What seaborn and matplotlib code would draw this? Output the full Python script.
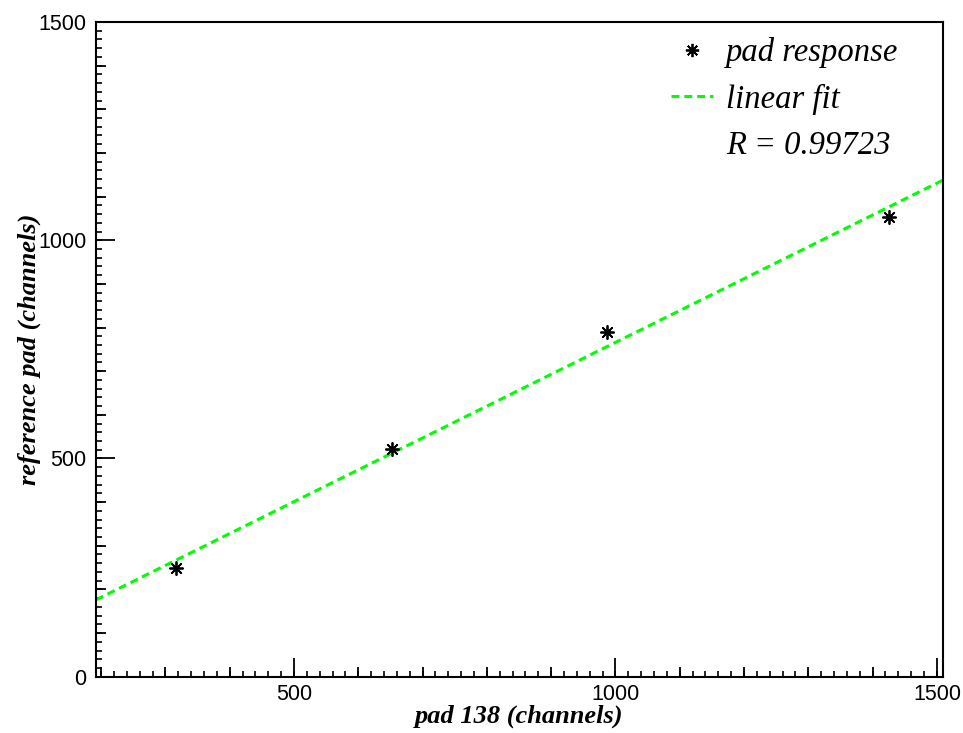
import numpy as np
import pandas as pd
import matplotlib
matplotlib.use("Agg")
import matplotlib.pyplot as plt
from matplotlib.lines import Line2D
from matplotlib.ticker import MultipleLocator
import seaborn as sns

# ---- data ----
pad138 = [316.5, 653.0, 987.0, 1426.0]
reference_pad = [248.0, 521.0, 790.0, 1054.0]
r_value_text = "R = 0.99723"
x_label = "pad 138 (channels)"
y_label = "reference pad (channels)"
legend_labels = ["pad response", "linear fit"]
x_limits = (192, 1509)
y_limits = (0, 1500)

df = pd.DataFrame({"x": pad138, "y": reference_pad})

sns.set_style("white")
plt.rcParams["font.family"] = ["Liberation Sans", "DejaVu Sans"]
plt.rcParams.update({"text.color": "black", "axes.labelcolor": "black",
                     "xtick.color": "black", "ytick.color": "black"})

fig = plt.figure(figsize=(9.63, 7.33), dpi=100)
ax = fig.add_axes([96 / 963, 1 - 676.7 / 733, 846.7 / 963, 654.7 / 733])
ax.set_xlim(*x_limits)
ax.set_ylim(*y_limits)

green = "#00ff00"
sns.regplot(data=df, x="x", y="y", ax=ax, scatter=False, ci=None, truncate=False,
            line_kws=dict(color=green, lw=2.2, linestyle=(0, (2.6, 1.6))))
sns.scatterplot(data=df, x="x", y="y", ax=ax, marker=(8, 2, 0), s=90,
                color="black", edgecolor="black", linewidth=1.3, zorder=5)
ax.set_xlim(*x_limits)
ax.set_ylim(*y_limits)

# spines
for sp in ax.spines.values():
    sp.set_visible(True)
    sp.set_linewidth(1.5)
    sp.set_color("black")

# ticks
ax.xaxis.set_major_locator(MultipleLocator(500))
ax.xaxis.set_minor_locator(MultipleLocator(100))
ax.yaxis.set_major_locator(MultipleLocator(500))
ax.yaxis.set_minor_locator(MultipleLocator(100))
ax.tick_params(which="major", direction="in", length=13.5, width=1.3,
               labelsize=15.5, top=False, right=False, bottom=True, left=True,
               colors="black")
ax.tick_params(which="minor", direction="in", length=7.5, width=1.3,
               top=False, right=False, bottom=True, left=True, colors="black")
ax.tick_params(axis="x", which="major", pad=5)
ax.tick_params(axis="y", which="major", pad=7)

# finest ticks via secondary axes
secx = ax.secondary_xaxis("bottom")
secx.xaxis.set_major_locator(MultipleLocator(20))
secx.tick_params(which="major", direction="in", length=4, width=1.2,
                 labelbottom=False, colors="black")
secx.spines["bottom"].set_visible(False)
secy = ax.secondary_yaxis("left")
secy.yaxis.set_major_locator(MultipleLocator(20))
secy.tick_params(which="major", direction="in", length=4, width=1.2,
                 labelleft=False, colors="black")
secy.spines["left"].set_visible(False)

serif_bi = dict(family=["Liberation Serif", "DejaVu Serif"], style="italic",
                weight="bold", size=19, color="black")
ax.set_xlabel(x_label, fontdict=serif_bi, labelpad=0)
ax.set_ylabel(y_label, fontdict=serif_bi, labelpad=-2)

handles = [
    Line2D([], [], linestyle="none", marker=(8, 2, 0), markersize=9.5,
           markeredgewidth=1.3, color="black"),
    Line2D([], [], color=green, lw=2.2, linestyle=(0, (2.6, 1.6))),
    Line2D([], [], linestyle="none"),
]
leg = ax.legend(handles, legend_labels + [r_value_text], loc="upper left",
                bbox_to_anchor=(0.679, 0.977), frameon=False, borderpad=0,
                borderaxespad=0, handlelength=1.3, handletextpad=0.4,
                labelspacing=0.48,
                prop=dict(family=["Liberation Serif", "DejaVu Serif"],
                          style="italic", size=23.5))

fig.savefig("out.png", dpi=100, facecolor="white")
